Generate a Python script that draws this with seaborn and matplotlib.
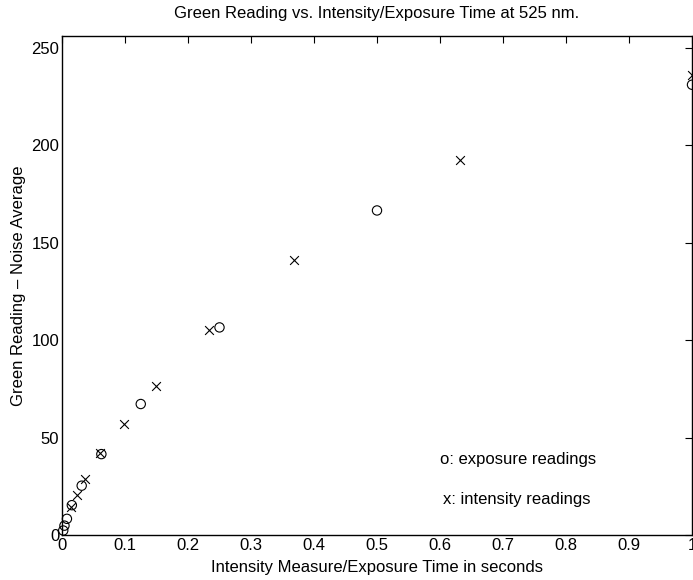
import matplotlib
matplotlib.use("Agg")
import matplotlib.pyplot as plt
import seaborn as sns
import pandas as pd

# exposure readings (o)
exposure_x = [1.0, 0.5, 0.25, 0.125, 0.0625, 0.03125, 0.015625, 0.0078125, 0.00390625, 0.001953125]
exposure_y = [231, 166.5, 106.5, 67.2, 41.5, 25.3, 15.3, 8.3, 4.8, 2.3]

# intensity readings (x)
intensity_x = [1.0, 0.632, 0.368, 0.234, 0.149, 0.098, 0.060, 0.037, 0.024, 0.015]
intensity_y = [236, 192.3, 141, 105, 76.4, 56.8, 41.9, 28.8, 20.3, 14.5]

x_ticks = [0, 0.1, 0.2, 0.3, 0.4, 0.5, 0.6, 0.7, 0.8, 0.9, 1]
x_tick_labels = ["0", "0.1", "0.2", "0.3", "0.4", "0.5", "0.6", "0.7", "0.8", "0.9", "1"]
y_ticks = [0, 50, 100, 150, 200, 250]

title = "Green Reading vs. Intensity/Exposure Time at 525 nm."
xlabel = "Intensity Measure/Exposure Time in seconds"
ylabel = "Green Reading \u2013 Noise Average"
note_o = "o: exposure readings"
note_x = "x: intensity readings"

sns.set_theme(style="white")
plt.rcParams["font.family"] = ["Liberation Sans", "DejaVu Sans"]
plt.rcParams["font.size"] = 12
plt.rcParams["text.color"] = "black"
plt.rcParams["axes.labelcolor"] = "black"

df_o = pd.DataFrame({"x": exposure_x, "y": exposure_y})
df_x = pd.DataFrame({"x": intensity_x, "y": intensity_y})

fig = plt.figure(figsize=(6.93, 5.80), dpi=100)
ax = fig.add_axes([62 / 693, 45 / 580, 630 / 693, 499 / 580])

sns.scatterplot(data=df_o, x="x", y="y", ax=ax, marker="o", s=45,
                facecolors="none", edgecolor="black", linewidth=0.8, clip_on=False)
sns.scatterplot(data=df_x, x="x", y="y", ax=ax, marker="x", s=40,
                color="black", linewidth=0.8, clip_on=False)

ax.set_xlim(0, 1)
ax.set_ylim(0, 256)
ax.set_xticks(x_ticks)
ax.set_xticklabels(x_tick_labels)
ax.set_yticks(y_ticks)
ax.tick_params(direction="in", length=5, width=0.8, top=True, right=True,
               labelsize=12, colors="black", pad=2)
for sp in ax.spines.values():
    sp.set_visible(True)
    sp.set_color("black")
    sp.set_linewidth(1.0)

ax.set_title(title, fontsize=12, pad=13, color="black")
ax.set_xlabel(xlabel, fontsize=12, labelpad=5)
ax.set_ylabel(ylabel, fontsize=12, labelpad=4)

ax.text(0.6, 38.5, note_o, fontsize=12, ha="left", va="center", color="black")
ax.text(0.605, 18, note_x, fontsize=12, ha="left", va="center", color="black")

fig.savefig("out.png", dpi=100)
